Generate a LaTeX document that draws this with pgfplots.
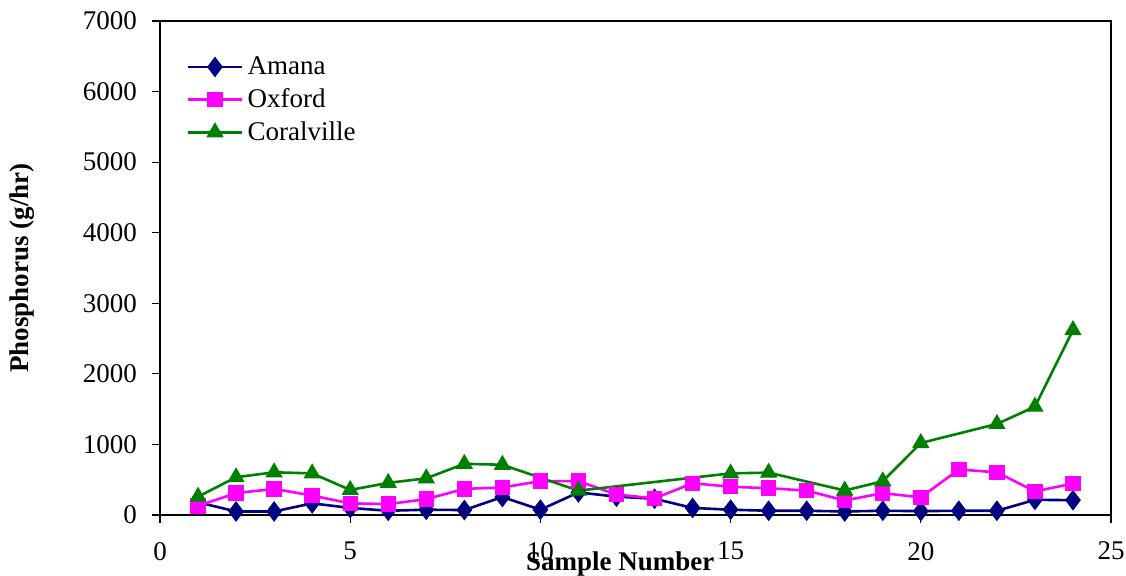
\documentclass[border=0pt]{standalone}
\usepackage{pgfplots}
\pgfplotsset{compat=1.18}
\usetikzlibrary{calc}
\usepackage{fontspec}
\setmainfont{Liberation Serif}
\definecolor{amana}{RGB}{0,0,128}
\definecolor{oxford}{RGB}{255,0,255}
\definecolor{coral}{RGB}{0,128,0}
\begin{document}
\begin{tikzpicture}
\begin{axis}[
  scale only axis,
  width=475.5pt, height=247pt,
  xmin=0, xmax=25, ymin=0, ymax=7000,
  xtick={0,5,...,25}, ytick={0,1000,...,7000},
  tick align=outside, major tick length=4pt,
  xtick pos=bottom, ytick pos=left,
  axis line style={line width=0.8pt, black},
  tick style={line width=0.6pt, black},
  /pgf/number format/assume math mode=true,
  /pgf/number format/1000 sep={},
  ticklabel style={font=\fontsize{13.5}{16}\selectfont},
  yticklabel style={xshift=-4pt},
  xticklabel style={yshift=-6pt},
  xlabel={\textbf{Sample Number}},
  ylabel={\textbf{Phosphorus (g/hr)}},
  label style={font=\fontsize{13.5}{16}\selectfont},
  xlabel style={at={(axis description cs:0.484,0)}, anchor=base, yshift=-27.5pt},
  ylabel style={at={(axis description cs:-0.1451,0.5)}, anchor=center},
  legend style={draw=none, fill=none, at={(0.021,0.945)}, anchor=north west,
    font=\fontsize{13.5}{16}\selectfont, row sep=1.5pt,
    legend cell align=left},
  legend image code/.code={\draw[mark repeat=2,mark phase=2] plot coordinates {(0cm,0cm)(0.48cm,0cm)(0.96cm,0cm)};},
  every axis plot/.append style={line width=1.3pt},
]
\addplot[color=amana, mark=diamond*, mark size=4.8pt, mark options={solid, fill=amana, line width=0.5pt}] coordinates {
(1,180)(2,50)(3,50)(4,165)(5,100)(6,60)(7,75)(8,70)(9,255)(10,75)(11,320)(12,260)
(13,230)(14,100)(15,75)(16,60)(17,60)(18,50)(19,60)(20,55)(21,60)(22,60)(23,215)(24,210)};
\addlegendentry{Amana}
\addplot[color=oxford, mark=square*, mark size=3.6pt, mark options={solid, fill=oxford, line width=0.5pt}] coordinates {
(1,130)(2,310)(3,370)(4,275)(5,165)(6,155)(7,225)(8,370)(9,390)(10,480)(11,480)(12,290)
(13,235)(14,450)(15,400)(16,380)(17,345)(18,205)(19,310)(20,250)(21,645)(22,605)(23,335)(24,445)};
\addlegendentry{Oxford}
\addplot[color=coral, mark=triangle*, mark size=4.5pt, mark options={solid, fill=coral, line width=0.5pt}] coordinates {
(1,260)(2,535)(3,605)(4,590)(5,355)(6,455)(7,520)(8,725)(9,712)(11,345)
(15,590)(16,600)(18,347)(19,478)(20,1020)(22,1290)(23,1535)(24,2620)};
\addlegendentry{Coralville}
\end{axis}
\pgfresetboundingbox
\useasboundingbox ($(current axis.south west)+(-80pt,-30.5pt)$) rectangle ($(current axis.north east)+(7.5pt,10.5pt)$);
\end{tikzpicture}
\end{document}
